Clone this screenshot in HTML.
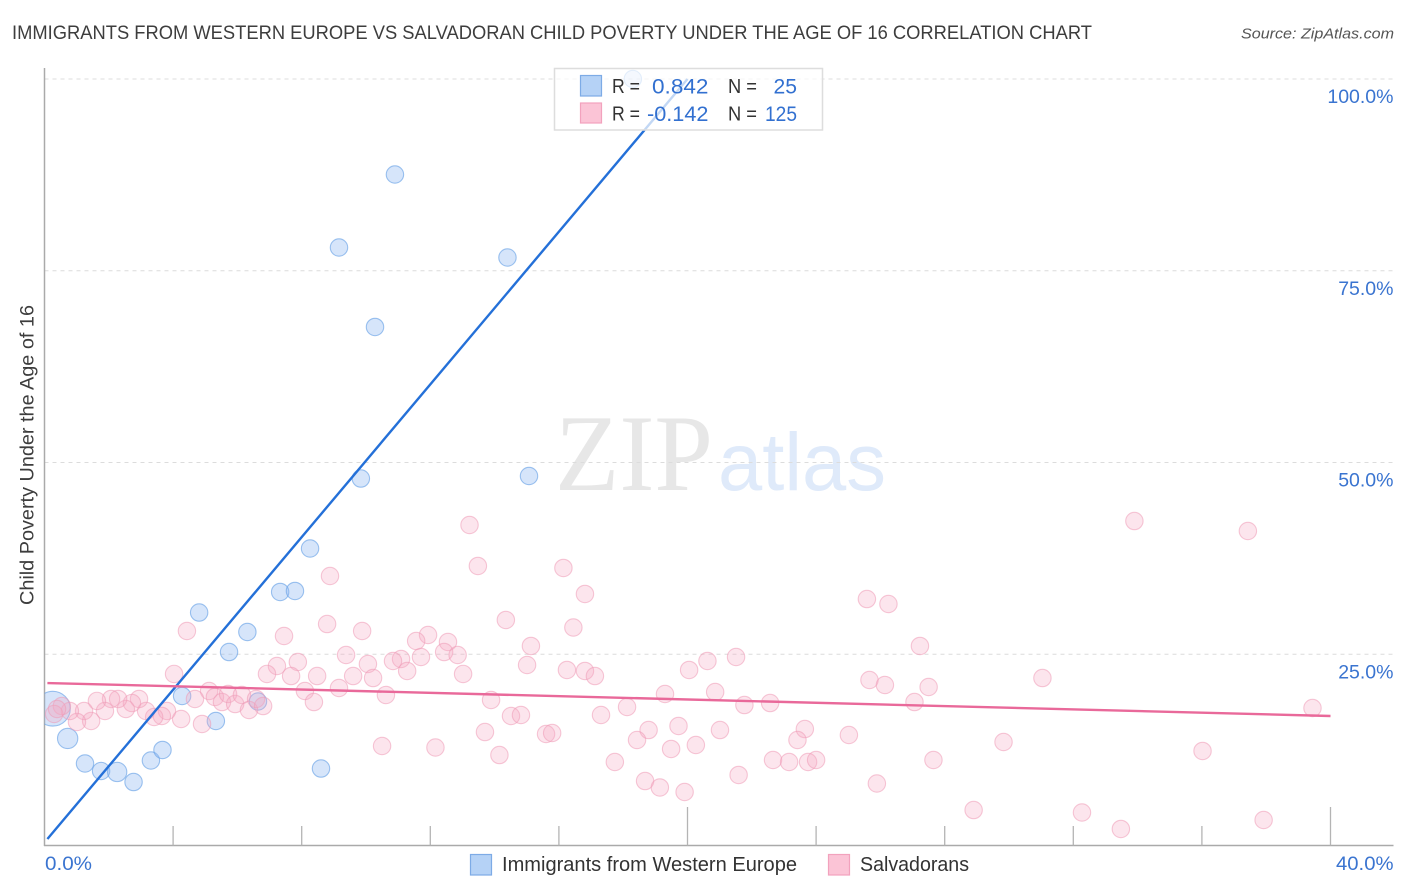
<!DOCTYPE html>
<html lang="en">
<head>
<meta charset="utf-8">
<title>Immigrants from Western Europe vs Salvadoran Child Poverty Under the Age of 16 Correlation Chart</title>
<style>
html,body{margin:0;padding:0;background:#fff;width:1406px;height:892px;overflow:hidden}
svg{display:block;font-family:"Liberation Sans",sans-serif}
</style>
</head>
<body>
<svg id="chart" xmlns="http://www.w3.org/2000/svg" width="1406" height="892" viewBox="0 0 1406 892">
  <defs>
    <clipPath id="plot-clip"><rect x="44.5" y="60" width="1350" height="786"/></clipPath>
  </defs>
  <rect x="0" y="0" width="1406" height="892" fill="#ffffff"/>
  <text x="12" y="39" font-size="19.5" fill="#3d3d3d" textLength="1080" lengthAdjust="spacingAndGlyphs">IMMIGRANTS FROM WESTERN EUROPE VS SALVADORAN CHILD POVERTY UNDER THE AGE OF 16 CORRELATION CHART</text>
  <text x="1394" y="38.5" font-size="15" font-style="italic" fill="#555555" text-anchor="end" textLength="153" lengthAdjust="spacingAndGlyphs">Source: ZipAtlas.com</text>
  <g>
    <text x="555" y="490" font-family="'Liberation Serif',serif" font-size="109" fill="#e7e7e7" textLength="158" lengthAdjust="spacingAndGlyphs">ZIP</text>
    <text x="718" y="490" font-size="82" fill="#dfeafa" textLength="168" lengthAdjust="spacingAndGlyphs">atlas</text>
  </g>
  <g id="grid"></g>
  <g id="axes"></g>
  <g id="blue-points" clip-path="url(#plot-clip)"></g>
  <g id="pink-points" clip-path="url(#plot-clip)"></g>
  <g id="trends"></g>
  <text x="0" y="0" transform="translate(33.5 455) rotate(-90)" font-size="19" fill="#3d3d3d" text-anchor="middle" textLength="300" lengthAdjust="spacingAndGlyphs">Child Poverty Under the Age of 16</text>
  <g>
    <rect x="554.5" y="68.5" width="268" height="61.5" fill="#ffffff" fill-opacity="0.72" stroke="#dddddd" stroke-width="1.5"/>
    <rect x="580.5" y="75.5" width="21" height="20.5" fill="#b5d2f6" stroke="#7dabe6" stroke-width="1.2"/>
    <rect x="580.5" y="103" width="21" height="20" fill="#fbc4d6" stroke="#f2a2bd" stroke-width="1.2"/>
    <g font-size="20" fill="#333333">
      <text x="612" y="93" textLength="28" lengthAdjust="spacingAndGlyphs">R =</text>
      <text x="612" y="120.5" textLength="28" lengthAdjust="spacingAndGlyphs">R =</text>
      <text x="728" y="93" textLength="29" lengthAdjust="spacingAndGlyphs">N =</text>
      <text x="728" y="120.5" textLength="29" lengthAdjust="spacingAndGlyphs">N =</text>
    </g>
    <g font-size="21.5" fill="#3270d0">
      <text x="652" y="93.5" textLength="56.5" lengthAdjust="spacingAndGlyphs">0.842</text>
      <text x="647" y="121" textLength="61.5" lengthAdjust="spacingAndGlyphs">-0.142</text>
      <text x="773.5" y="93.5" textLength="23.5" lengthAdjust="spacingAndGlyphs">25</text>
      <text x="765" y="121" textLength="32" lengthAdjust="spacingAndGlyphs">125</text>
    </g>
  </g>
  <g>
    <rect x="470.5" y="854.5" width="21" height="20.5" fill="#b5d2f6" stroke="#7dabe6" stroke-width="1.2"/>
    <text x="502" y="871" font-size="20" fill="#333333" textLength="295" lengthAdjust="spacingAndGlyphs">Immigrants from Western Europe</text>
    <rect x="828.5" y="854.5" width="21" height="20.5" fill="#fbc4d6" stroke="#f2a2bd" stroke-width="1.2"/>
    <text x="860" y="871" font-size="20" fill="#333333" textLength="109" lengthAdjust="spacingAndGlyphs">Salvadorans</text>
  </g>
</svg>
<script>
const xTickValues = [4, 8, 12, 16, 20, 24, 28, 32, 36, 40];
const majorXTicks = [20, 40];
const yGridValues = [25, 50, 75, 100];
const yTickLabels = ["25.0%", "50.0%", "75.0%", "100.0%"];
const xEndLabels = ["0.0%", "40.0%"];

const blueX = [0.26, 0.72, 1.26, 1.76, 2.26, 2.77, 3.31, 3.67, 4.28, 5.33, 4.81, 5.74, 6.31, 6.64, 7.33, 7.79, 8.26, 8.60, 9.84, 9.16, 10.28, 10.90, 14.40, 15.07, 18.30];
const blueY = [17.90, 14.02, 10.76, 9.78, 9.65, 8.34, 11.15, 12.52, 19.56, 16.30, 30.44, 25.29, 27.90, 18.84, 33.12, 33.25, 38.79, 10.10, 47.91, 78.03, 67.67, 87.55, 76.73, 48.24, 100];
const blueWeight = [4, 1.36, 1, 1, 1.23, 1, 1, 1, 1, 1, 1, 1, 1, 1, 1, 1, 1, 1, 1, 1, 1, 1, 1, 1, 1];

const pinkX = [4.43, 7.45, 8.79, 9.38, 4.03, 7.23, 7.88, 6.92, 7.67, 8.48, 9.60, 8.10, 9.16, 8.38,
  5.12, 4.68, 5.30, 5.52, 5.71, 5.93, 6.14, 6.36, 6.58, 6.80, 4.25, 4.90, 3.81, 3.65, 3.41, 3.16, 2.94, 2.72, 2.53, 2.29, 2.07, 1.88, 1.63, 1.45, 1.23, 1.01, 0.79, 0.54, 0.30, 0.39,
  13.22, 33.90, 37.43, 13.48, 16.14, 8.88, 16.81, 25.58, 26.25, 14.35, 16.45, 9.88, 11.93, 11.56, 12.55, 27.23, 15.13, 12.43, 12.85, 11.71, 11.09, 10.84, 10.06, 11.28, 15.01, 16.25, 16.81, 17.12, 13.02, 20.05, 20.62, 21.51, 10.22, 31.04, 25.66, 26.14, 27.50, 19.30, 20.86, 10.62, 13.89, 27.06, 22.57, 21.77, 39.44, 18.12, 17.31, 14.51, 14.82, 23.65, 25.02, 19.72, 21.01, 18.79, 13.70, 10.50, 12.16, 15.60, 15.79, 18.43, 19.49, 20.26, 23.42, 29.83, 36.02, 14.15, 17.74, 22.66, 23.16, 23.75, 24.00, 27.65, 21.59, 18.68, 19.14, 19.91, 25.89, 28.90, 32.27, 33.48, 37.92];
const pinkY = [28.03, 27.38, 28.94, 24.90, 22.43, 23.47, 23.99, 22.43, 22.16, 22.16, 22.16, 20.21, 20.60, 18.77,
  20.21, 19.17, 19.43, 18.77, 19.82, 18.51, 19.69, 17.73, 19.17, 18.25, 16.56, 15.91, 17.60, 16.95, 16.82, 17.60, 19.17, 18.64, 17.86, 19.17, 19.17, 17.60, 18.91, 16.30, 17.60, 16.17, 17.60, 18.25, 17.21, 17.86,
  41.85, 42.37, 41.07, 36.51, 36.25, 35.20, 32.86, 32.20, 31.55, 29.47, 28.49, 28.03, 27.51, 26.73, 26.60, 26.08, 26.08, 25.29, 24.90, 24.64, 24.38, 24.12, 23.73, 22.82, 23.60, 22.95, 22.82, 22.16, 22.43, 22.95, 24.12, 24.64, 21.90, 21.90, 21.64, 20.99, 20.73, 19.82, 20.08, 19.69, 19.04, 18.77, 18.64, 18.38, 17.99, 18.12, 17.08, 16.95, 17.08, 15.25, 14.47, 15.65, 15.12, 15.12, 14.86, 13.04, 12.84, 14.60, 14.73, 13.82, 12.65, 13.17, 13.82, 13.56, 12.39, 11.86, 10.95, 11.21, 10.95, 10.95, 11.21, 11.21, 9.26, 8.47, 7.63, 7.04, 8.15, 4.69, 4.37, 2.22, 3.39];

const blueTrendX = [0.09, 20.0];
const blueTrendY = [0.91, 100];
const pinkTrendX = [0.09, 40];
const pinkTrendY = [21.25, 16.95];

const NS = 'http://www.w3.org/2000/svg';
function xScale(v) { return 44.5 + v * 32.15; }
function yScale(v) { return 846 - v * 7.67; }
function make(tag, attrs, parent) {
  const el = document.createElementNS(NS, tag);
  for (const k in attrs) el.setAttribute(k, attrs[k]);
  parent.appendChild(el);
  return el;
}

const gridG = document.getElementById('grid');
const axesG = document.getElementById('axes');
const blueG = document.getElementById('blue-points');
const pinkG = document.getElementById('pink-points');
const trendG = document.getElementById('trends');

yGridValues.forEach(function (v, i) {
  const line = make('line', { x1: 44.5, x2: 1393, y1: yScale(v), y2: yScale(v), stroke: '#dcdcdc', 'stroke-width': 1, 'stroke-dasharray': '4 4' }, gridG);
  
  
  const label = make('text', { x: 1393.5, y: yScale(v) + 24, 'font-size': 19.5, fill: '#3a74d0', 'text-anchor': 'end' }, axesG);
  label.textContent = yTickLabels[i];
  
  
});

const yAxisLine = make('line', { x1: 44.5, x2: 44.5, y1: 68, y2: 846, stroke: '#aaaaaa', 'stroke-width': 1.5 }, axesG);


const xAxisLine = make('line', { x1: 44, x2: 1393.5, y1: 845.5, y2: 845.5, stroke: '#aaaaaa', 'stroke-width': 1.5 }, axesG);



xTickValues.forEach(function (v) {
  const top = majorXTicks.indexOf(v) >= 0 ? 807 : 826;
  const tick = make('line', { x1: xScale(v), x2: xScale(v), y1: top, y2: 845.5, stroke: '#b4b4b4', 'stroke-width': 1.3 }, axesG);
  
  
});

const xLabelStart = make('text', { x: 45, y: 870, 'font-size': 19.5, fill: '#3a74d0', textLength: 47, lengthAdjust: 'spacingAndGlyphs' }, axesG);
xLabelStart.textContent = xEndLabels[0];


const xLabelEnd = make('text', { x: 1336, y: 870, 'font-size': 19.5, fill: '#3a74d0', textLength: 57.5, lengthAdjust: 'spacingAndGlyphs' }, axesG);
xLabelEnd.textContent = xEndLabels[1];



blueX.forEach(function (v, i) {
  const c = make('circle', { cx: xScale(v), cy: yScale(blueY[i]), r: 8.7 * Math.sqrt(blueWeight[i]), fill: '#8db8f0', 'fill-opacity': 0.36, stroke: '#6aa3e6', 'stroke-opacity': 0.65, 'stroke-width': 1.1 }, blueG);
  
  
});

pinkX.forEach(function (v, i) {
  const c = make('circle', { cx: xScale(v), cy: yScale(pinkY[i]), r: 8.7, fill: '#f5a9c2', 'fill-opacity': 0.3, stroke: '#ee9ab6', 'stroke-opacity': 0.55, 'stroke-width': 1.1 }, pinkG);
  
  
});

const blueTrend = make('line', { x1: xScale(blueTrendX[0]), y1: yScale(blueTrendY[0]), x2: xScale(blueTrendX[1]), y2: yScale(blueTrendY[1]), stroke: '#2470d8', 'stroke-width': 2.4 }, trendG);


const pinkTrend = make('line', { x1: xScale(pinkTrendX[0]), y1: yScale(pinkTrendY[0]), x2: xScale(pinkTrendX[1]), y2: yScale(pinkTrendY[1]), stroke: '#e9699a', 'stroke-width': 2.4 }, trendG);


</script>
</body>
</html>
